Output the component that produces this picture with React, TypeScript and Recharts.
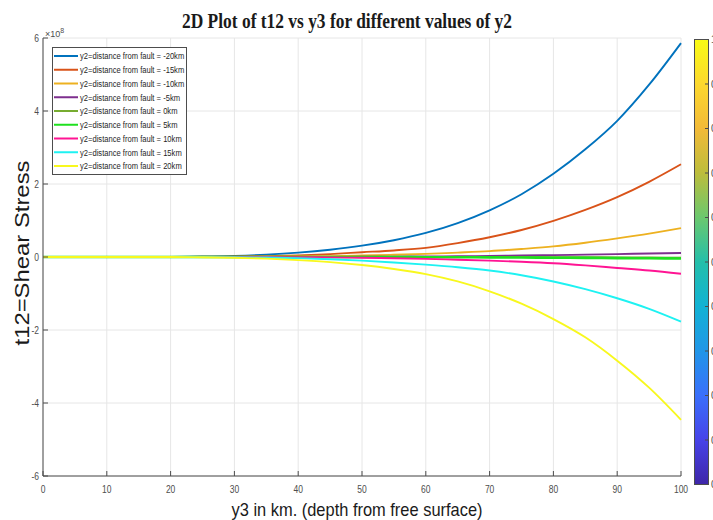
import { LineChart, Line, XAxis, YAxis, CartesianGrid } from 'recharts';

// depth y3 (km)
const depthKm = [0, 5, 10, 15, 20, 25, 30, 35, 40, 45, 50, 55, 60, 65, 70, 75, 80, 85, 90, 95, 100];

// t12 in units of 1e8, one array per y2 value
const tauM20 = [0, 0, 0, 0, 0.004, 0.012, 0.03, 0.065, 0.12, 0.2, 0.31, 0.46, 0.66, 0.93, 1.28, 1.72, 2.28, 2.95, 3.73, 4.72, 5.86];
const tauM15 = [0, 0, 0, 0, 0.001, 0.005, 0.012, 0.025, 0.045, 0.08, 0.13, 0.18, 0.25, 0.38, 0.54, 0.74, 0.99, 1.29, 1.64, 2.06, 2.54];
const tauM10 = [0, 0, 0, 0, 0, 0.001, 0.004, 0.008, 0.015, 0.025, 0.04, 0.06, 0.085, 0.12, 0.16, 0.22, 0.29, 0.39, 0.51, 0.64, 0.79];
const tauM5 = [0, 0, 0, 0, 0, 0, 0, 0, 0, 0.003, 0.006, 0.01, 0.015, 0.02, 0.03, 0.04, 0.05, 0.065, 0.08, 0.095, 0.11];
const tau0 = [0, 0, 0, 0, 0, 0, 0, 0, 0, 0, 0, 0, 0, 0, 0, -0.003, -0.005, -0.008, -0.01, -0.015, -0.02];
const tauP5 = [0, 0, 0, 0, 0, 0, 0, 0, 0, 0, 0, 0, -0.005, -0.008, -0.01, -0.015, -0.02, -0.025, -0.03, -0.035, -0.04];
const tauP10 = [0, 0, 0, 0, 0, 0, 0, 0, -0.005, -0.01, -0.02, -0.035, -0.05, -0.075, -0.1, -0.13, -0.17, -0.23, -0.3, -0.37, -0.46];
const tauP15 = [0, 0, 0, 0, 0, 0, -0.005, -0.015, -0.03, -0.06, -0.1, -0.15, -0.21, -0.28, -0.37, -0.5, -0.67, -0.88, -1.13, -1.42, -1.77];
const tauP20 = [0, 0, 0, 0, 0, -0.006, -0.02, -0.045, -0.085, -0.14, -0.22, -0.33, -0.47, -0.67, -0.94, -1.28, -1.7, -2.2, -2.84, -3.58, -4.46];

const xTicks = [0, 10, 20, 30, 40, 50, 60, 70, 80, 90, 100];
const yTicks = [-6, -4, -2, 0, 2, 4, 6];
const colorbarTicks = ['0', '0.1', '0.2', '0.3', '0.4', '0.5', '0.6', '0.7', '0.8', '0.9', '1'];

const series = [
  { key: 'm20', label: 'y2=distance from fault = -20km', color: '#0072BD', values: tauM20 },
  { key: 'm15', label: 'y2=distance from fault = -15km', color: '#D95319', values: tauM15 },
  { key: 'm10', label: 'y2=distance from fault = -10km', color: '#EDB120', values: tauM10 },
  { key: 'm5', label: 'y2=distance from fault = -5km', color: '#7E2F8E', values: tauM5 },
  { key: 'z0', label: 'y2=distance from fault = 0km', color: '#77AC30', values: tau0 },
  { key: 'p5', label: 'y2=distance from fault = 5km', color: '#1FE01F', values: tauP5 },
  { key: 'p10', label: 'y2=distance from fault = 10km', color: '#FF1493', values: tauP10 },
  { key: 'p15', label: 'y2=distance from fault = 15km', color: '#1EF2F2', values: tauP15 },
  { key: 'p20', label: 'y2=distance from fault = 20km', color: '#F8F81E', values: tauP20 },
];

const chartData = depthKm.map((d, i) => {
  const row: Record<string, number> = { depth: d };
  series.forEach((s) => { row[s.key] = s.values[i]; });
  return row;
});

// parula-ish colormap, bottom to top
const parula = ['#3e26a8', '#4743e8', '#3a6ffb', '#2196e8', '#12b2d4', '#24bfaa', '#6bc86e', '#bcbd3c', '#f2ba38', '#fcd82e', '#f9fb15'];

const AXIS = '#4d4d4d';
const FONT = '"Liberation Sans", Arial, sans-serif';

const XTick = (props: any) => {
  const { x, y, payload } = props;
  return (
    <g>
      <line x1={x} x2={x} y1={y} y2={y - 5} stroke={AXIS} />
      <text transform={`translate(${x},${y + 17}) scale(0.85,1)`} textAnchor="middle" fontSize={10} fill={AXIS} fontFamily={FONT}>{payload.value}</text>
    </g>
  );
};

const YTick = (props: any) => {
  const { x, y, payload } = props;
  return (
    <g>
      <line x1={x} x2={x + 5} y1={y} y2={y} stroke={AXIS} />
      <text transform={`translate(${x - 4},${y + 4}) scale(0.85,1)`} textAnchor="end" fontSize={10} fill={AXIS} fontFamily={FONT}>{payload.value}</text>
    </g>
  );
};

export default function App() {
  return (
    <div style={{ position: 'absolute', left: 0, top: 0, width: 713, height: 520, overflow: 'hidden', background: '#fff' }}>
      <LineChart width={713} height={520} data={chartData} margin={{ top: 38, right: 32, bottom: 0, left: 0 }}>
        <CartesianGrid stroke="#e6e6e6" />
        <XAxis
          dataKey="depth"
          type="number"
          domain={[0, 100]}
          ticks={xTicks}
          interval={0}
          height={44}
          tickLine={false}
          tickSize={0}
          tickMargin={0}
          axisLine={{ stroke: AXIS }}
          tick={XTick}
        />
        <YAxis
          type="number"
          domain={[-6, 6]}
          ticks={yTicks}
          interval={0}
          width={43}
          tickLine={false}
          tickSize={0}
          tickMargin={0}
          axisLine={{ stroke: AXIS }}
          tick={YTick}
        />
        {series.map((s) => (
          <Line
            key={s.key}
            type="monotone"
            dataKey={s.key}
            stroke={s.color}
            strokeWidth={s.key === 'p5' ? 2.6 : 1.9}
            dot={false}
            isAnimationActive={false}
          />
        ))}
      </LineChart>

      <svg width={713} height={520} style={{ position: 'absolute', left: 0, top: 0, pointerEvents: 'none' }}>
        <defs>
          <linearGradient id="parula" x1="0" y1="1" x2="0" y2="0">
            {parula.map((c, i) => (
              <stop key={i} offset={i / (parula.length - 1)} stopColor={c} />
            ))}
          </linearGradient>
        </defs>

        {/* title */}
        <text x={347} y={28} textAnchor="middle" fontFamily='"Liberation Serif", serif' fontWeight="bold" fontSize={22} fill="#1a1a1a" textLength={330} lengthAdjust="spacingAndGlyphs">
          2D Plot of t12 vs y3 for different values of y2
        </text>

        {/* axis labels */}
        <text transform="translate(29,253) rotate(-90)" textAnchor="middle" fontFamily={FONT} fontSize={19.5} fill="#1a1a1a" textLength={185} lengthAdjust="spacingAndGlyphs">
          t12=Shear Stress
        </text>
        <text x={357} y={516} textAnchor="middle" fontFamily={FONT} fontSize={19} fill="#1a1a1a" textLength={251} lengthAdjust="spacingAndGlyphs">
          y3 in km. (depth from free surface)
        </text>

        {/* exponent */}
        <text x={45} y={37} fontFamily={FONT} fontSize={9} fill={AXIS}>
          ×10<tspan dy={-4} fontSize={7}>8</tspan>
        </text>

        {/* legend */}
        <rect x={52.5} y={47.5} width={134} height={127} fill="#fff" stroke={AXIS} />
        {series.map((s, i) => {
          const cy = 56 + i * 13.75;
          return (
            <g key={s.key}>
              <line x1={54} x2={78} y1={cy} y2={cy} stroke={s.color} strokeWidth={2} />
              <text transform={`translate(80,${cy + 3.3}) scale(0.8,1)`} fontFamily={FONT} fontSize={9.5} fill="#262626">
                {s.label}
              </text>
            </g>
          );
        })}

        {/* colorbar */}
        <rect x={694.5} y={39.5} width={14} height={445} fill="url(#parula)" stroke={AXIS} />
        {colorbarTicks.map((t, i) => {
          const ty = 484.5 - (i * 445) / (colorbarTicks.length - 1);
          return (
            <g key={t}>
              <line x1={705} x2={708.5} y1={ty} y2={ty} stroke={AXIS} />
              <text x={711} y={ty + 3.5} fontFamily={FONT} fontSize={10} fill={AXIS}>{t}</text>
            </g>
          );
        })}
      </svg>
    </div>
  );
}
